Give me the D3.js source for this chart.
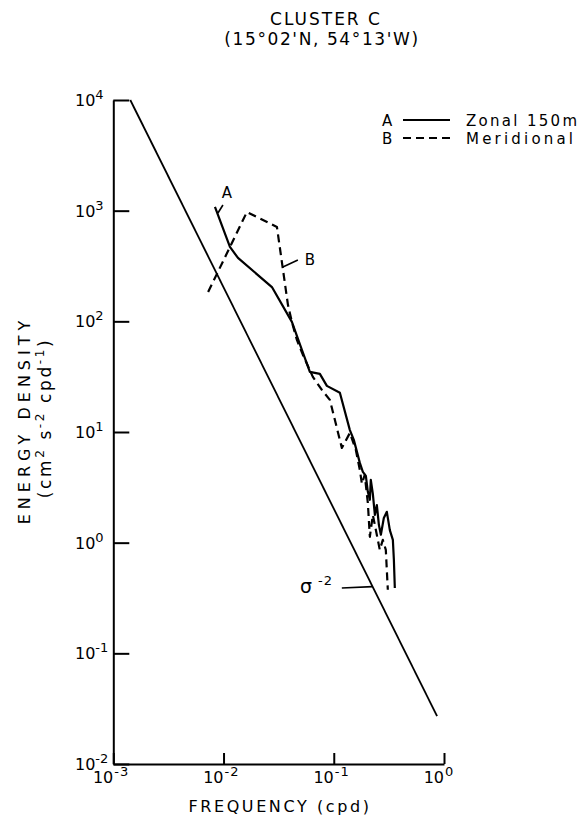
<!DOCTYPE html>
<html><head><meta charset="utf-8">
<script src="https://cdn.jsdelivr.net/npm/d3@7"></script>
<style>
body{margin:0;background:#fff}
text{font-family:"DejaVu Sans",sans-serif;fill:#000}
</style>
</head><body>
<svg id="c" width="583" height="822"></svg>
<script>
// ---- data ----
const zonalFreq   = [0.00836,0.01143,0.01352,0.02748,0.0417,0.0514,0.0607,0.0748,0.0866,0.1136,0.140,0.152,0.1724,0.1836,0.1955,0.2037,0.2125,0.2168,0.2262,0.236,0.246,0.2566,0.2675,0.2845,0.303,0.3226,0.3436,0.351,0.358];
const zonalEnergy = [1080,470,374,204,98.8,55.2,34.9,33.5,26.1,22.6,10.4,8.49,5.26,4.36,4.01,2.88,2.44,3.69,2.76,1.78,2.19,1.45,1.18,1.67,1.90,1.30,1.06,0.70,0.39];
const meridFreq   = [0.00725,0.0163,0.0305,0.0384,0.0417,0.0463,0.0525,0.0646,0.078,0.0922,0.1184,0.140,0.1585,0.1724,0.180,0.191,0.2037,0.2125,0.2262,0.241,0.2616,0.2786,0.2966,0.3093];
const meridEnergy = [184,973,713,141,98.8,67.9,49.7,31.5,24.0,19.5,7.18,9.81,6.89,4.54,3.40,4.10,2.29,1.13,1.78,1.30,0.86,1.06,0.86,0.375];
const refFreq     = [0.001426,0.865];   // sigma^-2 reference line
const refEnergy   = [10000,0.0271];
const xTickExps   = [-3,-2,-1,0];
const yTickExps   = [-2,-1,0,1,2,3,4];
const titleLines  = ["CLUSTER C","(15°02'N, 54°13'W)"];
const legendItems = [{key:"A",label:"Zonal 150m",dash:null,ls:2.3},{key:"B",label:"Meridional",dash:"8,5",ls:3.2}];

const svg = d3.select("#c");
const x = d3.scaleLog().domain([1e-3,1]).range([113.3,444]);
const y = d3.scaleLog().domain([1e-2,1e4]).range([764,100]);

// title
svg.append("text").attr("x",326).attr("y",25).attr("text-anchor","middle")
  .style("font-size","17px").style("letter-spacing","2px").text(titleLines[0]);
svg.append("text").attr("x",322).attr("y",45).attr("text-anchor","middle")
  .style("font-size","17px").style("letter-spacing","1.6px").text(titleLines[1]);

// axes
const yAxis = d3.axisLeft(y).tickValues(yTickExps.map(e=>Math.pow(10,e))).tickSize(-16).tickSizeOuter(0).tickFormat("");
const xAxis = d3.axisBottom(x).tickValues(xTickExps.map(e=>Math.pow(10,e))).tickSize(-11).tickSizeOuter(0).tickFormat("");
const gy = svg.append("g").attr("transform","translate(113.3,0)").call(yAxis);
const gx = svg.append("g").attr("transform","translate(0,764)").call(xAxis);
[gy,gx].forEach(g=>{g.selectAll("path,line").attr("stroke","#000").attr("stroke-width",2);});

// y tick labels
yTickExps.forEach(e=>{
  const t = svg.append("text").attr("x",75).attr("y",y(Math.pow(10,e))+6).style("font-size","16px");
  t.append("tspan").text("10");
  t.append("tspan").attr("dy",-7).style("font-size","13px").text(e<0? "-"+Math.abs(e) : String(e));
});
// x tick labels
xTickExps.forEach(e=>{
  const px = x(Math.pow(10,e));
  svg.append("text").attr("x",px).attr("y",783).attr("text-anchor","end").style("font-size","16px").text("10");
  svg.append("text").attr("x",px+1).attr("y",776).style("font-size","13px").style("letter-spacing","1px").text(e<0? "-"+Math.abs(e) : String(e));
});

// axis titles
svg.append("text").attr("x",280).attr("y",812).attr("text-anchor","middle")
  .style("font-size","16px").style("letter-spacing","2.6px").text("FREQUENCY  (cpd)");
const yl = svg.append("g");
yl.append("text").attr("transform","translate(30,420) rotate(-90)").attr("text-anchor","middle")
  .style("font-size","16px").style("letter-spacing","5px").text("ENERGY DENSITY");
const yl2 = yl.append("text").attr("transform","translate(51,418) rotate(-90)").attr("text-anchor","middle")
  .style("font-size","17px").style("letter-spacing","2.6px");
yl2.append("tspan").text("(cm");
yl2.append("tspan").attr("dy",-7).style("font-size","12px").text("2");
yl2.append("tspan").attr("dy",7).text(" s");
yl2.append("tspan").attr("dy",-7).style("font-size","12px").text("-2");
yl2.append("tspan").attr("dy",7).text(" cpd");
yl2.append("tspan").attr("dy",-7).style("font-size","12px").text("-1");
yl2.append("tspan").attr("dy",7).text(")");

// lines
const line = d3.line().x(d=>x(d[0])).y(d=>y(d[1]));
svg.append("path").datum(d3.zip(refFreq,refEnergy)).attr("d",line)
  .attr("fill","none").attr("stroke","#000").attr("stroke-width",1.8);
svg.append("path").datum(d3.zip(meridFreq,meridEnergy)).attr("d",line)
  .attr("fill","none").attr("stroke","#000").attr("stroke-width",2.2).attr("stroke-dasharray","8,5").attr("stroke-linejoin","round");
svg.append("path").datum(d3.zip(zonalFreq,zonalEnergy)).attr("d",line)
  .attr("fill","none").attr("stroke","#000").attr("stroke-width",2.2).attr("stroke-linejoin","round");

// annotations (data-space anchors)
const annA = {text:[0.01074,1302], lead:[[0.00988,1125],[0.0089,953]]};
const annB = {text:[0.0545,323], lead:[[0.03455,310],[0.04725,358]]};
const annS = {text:[0.0494,0.351], lead:[[0.1184,0.3895],[0.225,0.401]]};
[annA,annB,annS].forEach(a=>{
  svg.append("path").datum(a.lead).attr("d",line).attr("fill","none").attr("stroke","#000").attr("stroke-width",1.6);
});
svg.append("text").attr("x",x(annA.text[0])).attr("y",y(annA.text[1])).attr("text-anchor","middle").style("font-size","15px").text("A");
svg.append("text").attr("x",x(annB.text[0])).attr("y",y(annB.text[1])).style("font-size","15px").text("B");
const st = svg.append("text").attr("x",x(annS.text[0])).attr("y",y(annS.text[1])).style("font-size","19px");
st.append("tspan").text("σ");
st.append("tspan").attr("dx",6).attr("dy",-8).style("font-size","13px").style("letter-spacing","1px").text("-2");

// legend
legendItems.forEach((d,i)=>{
  const yy = 126 + i*18;
  svg.append("text").attr("x",382).attr("y",yy).style("font-size","15px").text(d.key);
  svg.append("line").attr("x1",403).attr("x2",450).attr("y1",yy-6).attr("y2",yy-6)
    .attr("stroke","#000").attr("stroke-width",1.8).attr("stroke-dasharray",d.dash);
  svg.append("text").attr("x",466).attr("y",yy).style("font-size","15px").style("letter-spacing",d.ls+"px").text(d.label);
});
</script>
</body></html>
